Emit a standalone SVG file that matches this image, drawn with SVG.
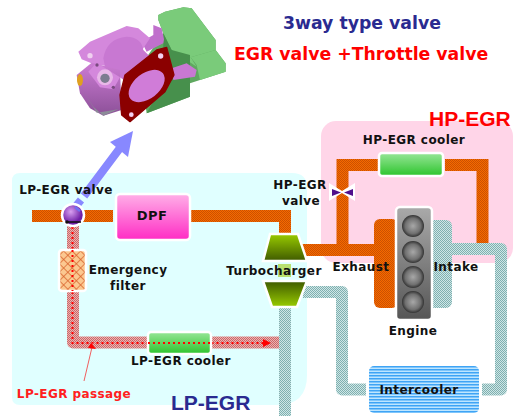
<svg xmlns="http://www.w3.org/2000/svg" width="517" height="416" viewBox="0 0 517 416">
<defs>
<pattern id="po" width="2" height="2" patternUnits="userSpaceOnUse"><rect width="2" height="2" fill="#f56a00"/><rect width="1" height="1" fill="#cc5000"/><rect x="1" y="1" width="1" height="1" fill="#cc5000"/></pattern>
<pattern id="pt" width="2" height="2" patternUnits="userSpaceOnUse"><rect width="2" height="2" fill="#cfe6e6"/><rect width="1" height="1" fill="#7fb0b0"/><rect x="1" y="1" width="1" height="1" fill="#7fb0b0"/></pattern>
<pattern id="pr" width="2" height="2" patternUnits="userSpaceOnUse"><rect width="2" height="2" fill="#eeb0b0"/><rect width="1" height="1" fill="#c86a6a"/><rect x="1" y="1" width="1" height="1" fill="#c86a6a"/></pattern>
<pattern id="pf" width="6" height="6" patternUnits="userSpaceOnUse" patternTransform="rotate(45)"><rect width="6" height="6" fill="#fbc890"/><path d="M0 0H6M0 0V6" stroke="#d8602a" stroke-width="1.400"/></pattern>
<pattern id="pi" width="3" height="3" patternUnits="userSpaceOnUse"><rect width="3" height="3" fill="#bfe6ff"/><rect width="3" height="1.500" fill="#3fa4f5"/></pattern>
<linearGradient id="gd" x1="0" y1="0" x2="0" y2="1"><stop offset="0" stop-color="#ffb0e8"/><stop offset="1" stop-color="#ff2cc4"/></linearGradient>
<linearGradient id="gc" x1="0" y1="0" x2="0" y2="1"><stop offset="0" stop-color="#98e698"/><stop offset="1" stop-color="#2cc42c"/></linearGradient>
<linearGradient id="gt1" x1="0" y1="0" x2="0" y2="1"><stop offset="0" stop-color="#99cc00"/><stop offset="1" stop-color="#3f5a00"/></linearGradient>
<linearGradient id="gt2" x1="0" y1="0" x2="0" y2="1"><stop offset="0" stop-color="#3f5a00"/><stop offset="1" stop-color="#99cc00"/></linearGradient>
<linearGradient id="ge" x1="0" y1="0" x2="0" y2="1"><stop offset="0" stop-color="#aaaaaa"/><stop offset="1" stop-color="#555555"/></linearGradient>
<linearGradient id="gb" x1="0" y1="0" x2="0" y2="1"><stop offset="0" stop-color="#cc7cd4"/><stop offset="1" stop-color="#8c5098"/></linearGradient>
<radialGradient id="gy"><stop offset="0" stop-color="#a8a8a8"/><stop offset=".7" stop-color="#707070"/><stop offset="1" stop-color="#333333"/></radialGradient>
<radialGradient id="gv" cx=".4" cy=".35"><stop offset="0" stop-color="#d8a0f0"/><stop offset="1" stop-color="#7020a8"/></radialGradient>
<marker id="ma" markerWidth="10" markerHeight="10" refX="7" refY="4" orient="auto" markerUnits="userSpaceOnUse"><path d="M0 0L8 4L0 8Z" fill="#ff0000"/></marker>
<style>
.l{font:bold 12px "DejaVu Sans",sans-serif;letter-spacing:.42px;fill:#111;text-anchor:middle}
.t{font-family:"Liberation Sans",Arial,sans-serif;font-weight:bold}
.v{font-family:"DejaVu Sans",sans-serif;font-weight:bold}
.w{stroke:#fff;stroke-width:2.500}
</style>
</defs>
<rect width="517" height="416" fill="#fff"/>
<g id="panels">
<path d="M20 173H292Q307 173 307 188V375Q307 405 277 405H20Q12 405 12 397V181Q12 173 20 173Z" fill="#e0ffff"/>
<rect x="321" y="121" width="192" height="142" rx="15" fill="#ffd5e8"/>
</g>
<g id="connectors" fill="none">
<path d="M32 216H113M190 216H285V236" stroke="url(#po)" stroke-width="12"/>
<path d="M73 222V342.500H280" stroke="url(#pr)" stroke-width="12" stroke-linejoin="round"/>
<path d="M300 250H385M342.500 250V165H378M445 165H482.500V250" stroke="url(#po)" stroke-width="12"/>
<rect x="374" y="219" width="24" height="89" rx="6" fill="url(#po)"/>
<rect x="425" y="220" width="27" height="88" rx="6" fill="url(#pt)"/>
<path d="M285 305V416M303 292H342V389.500H366M482 389.500H501V249H445" stroke="url(#pt)" stroke-width="12" stroke-linejoin="round"/>
<path d="M72.500 222V343H270" stroke="#ff0000" stroke-width="2" stroke-dasharray="2 3" marker-end="url(#ma)"/>
<path d="M84 381L93 343" stroke="#f06060" stroke-width="1"/>
<path d="M91 343L96 349L88 348Z" fill="#ff0000"/>
</g>
<g id="arrow">
<path d="M120 148L84 196M81 200L76 206" stroke="#8888ff" stroke-width="8" fill="none"/>
<path d="M110 142L133 131L128 157Z" fill="#8888ff"/>
</g>
<g id="valve3d" transform="translate(50 0) scale(.3333)">
<path d="M325 45L345 35L400 22L425 25L497 120L497 150L527 190L527 215L450 240L420 250V290L290 340L270 200L340 100L325 60Z" fill="#5fa860"/>
<path d="M325 45L345 35L400 22L425 25L497 120L497 150L422 172L440 200L365 150L340 100L325 60Z" fill="#7acb7a"/>
<path d="M422 172L497 150L527 190L527 215L450 240L440 195Z" fill="#7acb7a"/>
<path d="M340 100L365 150L420 165V290L290 340L340 250Z" fill="#47904c"/>
<path d="M275 125L310 105L310 75L335 85L342 118L340 130L290 155Z" fill="#c070cc"/>
<path d="M85 155L120 125L230 78L265 85L300 115L280 145L245 210L130 192L95 178Z" fill="#d488dc"/>
<path d="M160 175Q170 115 230 110Q275 112 280 150L310 180L250 260L165 200Z" fill="#c878d2"/>
<path d="M80 225L125 188L210 210L215 330L160 347L120 325L90 280Z" fill="url(#gb)"/>
<path d="M115 215L140 188L210 232L190 268L150 262Z" fill="#d488dc"/>
<path d="M95 265L130 320L160 347L205 328L140 338Z" fill="#8c8c98"/>
<path d="M365 205L410 190L440 210L435 230L370 240Z" fill="#c878d2"/>
<circle cx="165" cy="232" r="24" fill="#e8b8e8"/><circle cx="165" cy="235" r="14" fill="#7c7c90"/>
<circle cx="120" cy="167" r="8" fill="#f0d0f0"/><circle cx="141" cy="195" r="5" fill="#7a4a80"/><circle cx="190" cy="262" r="5" fill="#7a4a80"/>
<ellipse cx="90" cy="240" rx="9" ry="18" fill="#e0a020"/>
<path d="M210 285L225 225L320 150L350 142L372 225L345 275L240 365L215 345Z" fill="#8b0000" stroke="#8b0000" stroke-width="4" stroke-linejoin="round"/>
<ellipse cx="290" cy="258" rx="62" ry="38" transform="rotate(-38 290 258)" fill="#d07cd8"/>
<circle cx="332" cy="168" r="8" fill="#f4d0f0"/><circle cx="244" cy="344" r="7" fill="#f4d0f0"/>
</g>
<g id="dpf"><rect x="116" y="194" width="74" height="46" rx="4" fill="url(#gd)" class="w"/><text x="152" y="220" class="l" style="font-size:13px">DPF</text></g>
<g id="lp-valve"><circle cx="73" cy="215" r="11" fill="url(#gv)" class="w"/><path d="M67 222H81" stroke="#111" stroke-width="1.500"/><circle cx="67" cy="222" r="1.800" fill="#111"/><path d="M75 207L80 211" stroke="#7070f0" stroke-width="2.500"/><text x="66" y="194" class="l">LP-EGR valve</text></g>
<g id="filter"><rect x="59" y="250" width="27" height="41" rx="3" fill="url(#pf)" class="w"/><path d="M72.500 250V291" stroke="#ff0000" stroke-width="2" stroke-dasharray="2 3"/><text x="128" y="274" class="l">Emergency</text><text x="128" y="290" class="l">filter</text></g>
<g id="lp-cooler"><rect x="148" y="332" width="63" height="22" rx="3" fill="url(#gc)" class="w"/><path d="M148 343H211" stroke="#ff0000" stroke-width="2" stroke-dasharray="2 3"/><text x="181" y="365" class="l">LP-EGR cooler</text></g>
<g id="passage-label"><text x="74" y="398" class="l" style="fill:#ff2020">LP-EGR passage</text></g>
<g id="turbo"><path d="M270 234H298L307 261H263Z" fill="url(#gt1)" class="w"/><path d="M263 281H307L297 307H272Z" fill="url(#gt2)" class="w"/><rect x="278" y="264" width="13" height="13" fill="#b8e070"/><text x="274" y="275" class="l">Turbocharger</text></g>
<g id="hp-cooler"><rect x="379" y="153" width="64" height="23" rx="3" fill="url(#gc)" class="w"/><text x="414" y="144" class="l">HP-EGR cooler</text></g>
<g id="hp-valve"><path d="M329 183L342 191L355 183V201L342 193L329 201Z" fill="#fff"/><path d="M332 189V196L341 192.500Z" fill="#50108c"/><path d="M353 189V196L344 192.500Z" fill="#50108c"/><text x="300" y="189" class="l">HP-EGR</text><text x="301" y="205" class="l">valve</text></g>
<g id="engine"><rect x="396" y="207" width="36" height="113" rx="4" fill="url(#ge)" class="w"/><circle cx="413" cy="226" r="11" fill="url(#gy)"/><circle cx="413" cy="252" r="11" fill="url(#gy)"/><circle cx="413" cy="277" r="11" fill="url(#gy)"/><circle cx="413" cy="302" r="11" fill="url(#gy)"/><text x="413" y="335" class="l">Engine</text><text x="361" y="271" class="l">Exhaust</text><text x="456" y="271" class="l">Intake</text></g>
<g id="intercooler"><rect x="369" y="366" width="110" height="47" rx="5" fill="url(#pi)"/><text x="419" y="394" class="l">Intercooler</text></g>
<g id="titles">
<text x="283" y="29" class="v" font-size="17.300" fill="#2a2a90">3way type valve</text>
<text x="234" y="60" class="v" font-size="17.300" fill="#ff0000">EGR valve +Throttle valve</text>
<text x="429" y="126" class="t" font-size="21" fill="#ff0000">HP-EGR</text>
<text x="171" y="410" class="t" font-size="21" fill="#2a2a90">LP-EGR</text>
</g>
</svg>
